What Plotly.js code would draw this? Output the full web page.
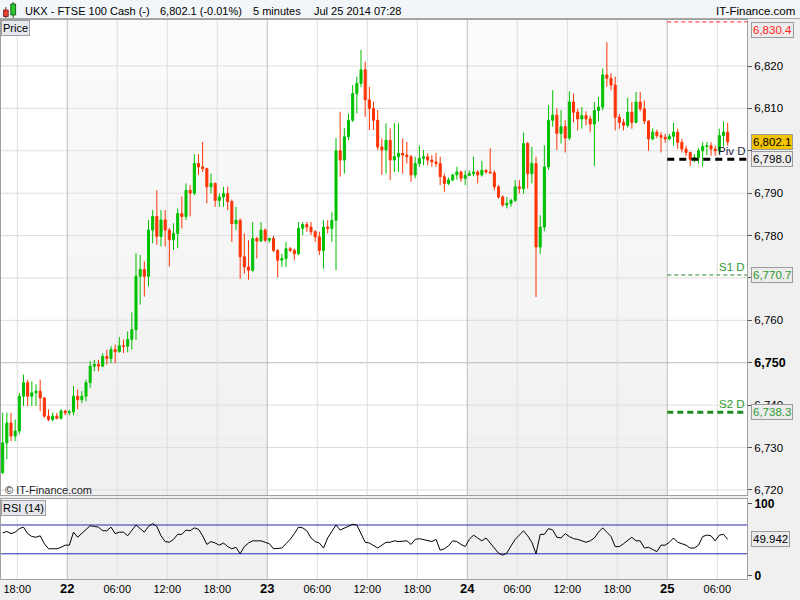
<!DOCTYPE html>
<html><head><meta charset="utf-8">
<script src="https://cdn.plot.ly/plotly-3.0.1.min.js"></script>
<style>html,body{margin:0;padding:0;background:#f0f0f0;}#chart{width:800px;height:600px;}</style>
</head><body><div id="chart"></div>
<script>
// ---- DATA (30-minute candles, first candle starts Jul 21 2014 16:00) ----
const candleStart = [2014, 6, 21, 16, 0];
const candleMinutes = 30;

const open = [
 6724.1,6731.1,6735.8,6732.7,6733.9,6742.1,6745.3,6742.1,6742.9,6743.3,6741.7,6737.4,6736.6,6737.4,6736.9,6738.6,
 6738.2,6738.4,6742.1,6741.3,6742.1,6745.3,6749.2,6749.6,6749.2,6751.5,6751.0,6753.1,6752.6,6754.0,6753.9,6755.5,
 6757.8,6770.4,6772.0,6770.4,6781.3,6784.5,6779.8,6783.7,6781.3,6779.0,6780.5,6785.2,6784.5,6790.7,6790.0,6797.0,
 6796.2,6795.8,6791.5,6792.3,6788.3,6789.1,6789.9,6788.0,6782.8,6783.6,6775.0,6772.6,6771.8,6779.3,6778.7,6781.3,
 6778.9,6779.3,6776.5,6774.2,6774.6,6776.9,6776.5,6775.7,6781.7,6782.6,6782.0,6780.9,6779.7,6776.5,6782.0,6781.7,
 6783.6,6800.0,6797.8,6803.3,6807.2,6813.5,6815.9,6819.1,6812.0,6810.0,6807.2,6800.9,6800.2,6802.5,6797.8,6798.6,
 6799.4,6799.0,6798.6,6794.3,6797.0,6798.2,6798.6,6797.8,6797.4,6797.0,6793.9,6792.3,6793.1,6794.3,6795.0,6793.5,
 6794.2,6794.6,6795.0,6794.3,6795.4,6795.0,6794.8,6791.5,6789.1,6787.2,6787.6,6788.3,6791.5,6791.1,6801.7,6794.6,
 6797.0,6777.3,6782.0,6796.2,6807.2,6808.4,6804.1,6805.7,6803.0,6811.5,6809.1,6807.5,6808.3,6807.5,6806.3,6809.5,
 6810.3,6817.9,6817.1,6815.5,6807.9,6806.7,6806.0,6809.1,6806.7,6811.5,6809.9,6807.0,6802.8,6804.4,6803.6,6803.2,
 6802.8,6803.4,6804.4,6802.0,6800.4,6799.6,6798.0,6798.4,6800.0,6801.0,6801.2,6800.4,6800.0,6803.6,6804.4
];
const high = [
 6738.2,6738.2,6738.2,6736.6,6742.9,6747.2,6746.0,6745.6,6744.9,6746.0,6741.9,6739.0,6738.2,6738.2,6739.1,6738.9,
 6738.9,6744.5,6743.7,6743.3,6746.0,6750.4,6750.7,6750.7,6752.2,6753.1,6753.9,6754.3,6756.1,6755.5,6757.4,6761.9,
 6775.8,6775.4,6773.9,6783.7,6786.0,6790.7,6786.0,6786.0,6781.8,6782.9,6786.4,6789.2,6792.3,6791.9,6799.2,6799.2,
 6802.1,6796.0,6794.6,6792.5,6789.9,6791.5,6791.5,6788.5,6786.8,6784.0,6780.5,6778.9,6783.2,6779.7,6783.2,6781.7,
 6779.5,6779.9,6776.8,6775.7,6778.5,6777.3,6776.9,6783.2,6783.2,6783.2,6783.2,6781.3,6780.9,6783.6,6783.6,6785.6,
 6803.0,6809.2,6805.3,6808.8,6815.5,6817.5,6823.8,6821.0,6815.1,6811.6,6809.6,6802.9,6806.5,6805.3,6806.5,6806.5,
 6802.9,6802.1,6799.0,6798.6,6801.3,6800.2,6799.4,6799.0,6799.5,6798.6,6794.6,6793.7,6794.6,6796.2,6795.3,6795.4,
 6795.4,6798.6,6795.4,6797.6,6795.6,6800.6,6795.4,6791.9,6789.5,6789.1,6788.7,6793.1,6793.1,6804.3,6802.1,6800.9,
 6798.6,6784.8,6801.3,6810.8,6814.3,6810.0,6809.6,6807.2,6814.0,6813.5,6809.9,6810.3,6809.3,6808.3,6811.5,6812.7,
 6819.4,6825.6,6818.3,6817.5,6808.7,6807.5,6812.5,6811.5,6813.9,6813.9,6811.9,6807.2,6805.3,6805.0,6804.4,6804.0,
 6804.0,6806.6,6805.2,6802.8,6801.2,6799.8,6799.2,6800.6,6802.0,6802.1,6802.0,6801.2,6805.2,6806.9,6806.6
];
const low = [
 6723.7,6727.2,6731.5,6731.5,6733.1,6739.8,6739.8,6739.8,6739.8,6738.6,6737.0,6736.2,6736.2,6736.6,6736.6,6737.6,
 6737.6,6737.6,6739.0,6740.5,6740.9,6744.1,6748.0,6748.0,6749.0,6749.6,6749.9,6749.9,6752.4,6752.3,6752.5,6753.1,
 6755.4,6763.7,6765.6,6768.0,6778.2,6777.8,6777.4,6777.4,6772.7,6776.6,6777.0,6781.7,6783.7,6784.5,6789.5,6794.3,
 6795.0,6787.6,6789.9,6786.8,6786.8,6786.8,6786.0,6778.5,6781.3,6769.8,6771.0,6769.6,6771.5,6774.6,6778.5,6778.5,
 6778.3,6776.1,6770.2,6772.6,6772.6,6776.1,6774.2,6775.4,6780.1,6780.9,6780.1,6778.5,6775.4,6772.2,6780.5,6778.5,
 6771.8,6793.9,6794.6,6802.5,6806.8,6808.8,6815.0,6808.0,6804.9,6804.9,6800.2,6794.3,6794.6,6793.1,6795.0,6795.0,
 6794.6,6797.0,6792.7,6793.5,6796.2,6796.6,6796.6,6796.2,6796.2,6791.9,6790.3,6791.9,6792.9,6793.2,6792.7,6791.9,
 6794.0,6794.0,6792.3,6793.9,6794.6,6794.6,6790.7,6788.7,6786.8,6786.4,6786.8,6787.9,6789.9,6789.9,6791.1,6792.3,
 6765.5,6775.7,6781.0,6795.5,6805.7,6800.2,6801.7,6799.6,6802.5,6806.7,6804.8,6805.2,6806.0,6804.4,6796.4,6806.9,
 6809.5,6815.1,6814.3,6804.8,6805.2,6804.8,6805.5,6805.2,6806.5,6809.3,6806.3,6800.0,6802.5,6803.0,6799.6,6801.9,
 6802.5,6801.2,6800.4,6799.6,6798.7,6796.4,6797.2,6797.0,6796.3,6799.0,6798.8,6798.8,6799.3,6801.0,6801.2
];
const close = [
 6731.1,6735.8,6732.7,6733.9,6742.1,6745.3,6742.1,6742.9,6743.3,6741.7,6737.4,6736.6,6737.4,6736.9,6738.6,6738.2,
 6738.4,6742.1,6741.3,6742.1,6745.3,6749.2,6749.6,6749.2,6751.5,6751.0,6753.1,6752.6,6754.0,6753.9,6755.5,6757.8,
 6770.4,6772.0,6770.4,6781.3,6784.5,6779.8,6783.7,6781.3,6779.0,6780.5,6785.2,6784.5,6790.7,6790.0,6797.0,6796.2,
 6795.8,6791.5,6792.3,6788.3,6789.1,6789.9,6788.0,6782.8,6783.6,6775.0,6772.6,6771.8,6779.3,6778.7,6781.3,6778.9,
 6779.3,6776.5,6774.2,6774.6,6776.9,6776.5,6775.7,6781.7,6782.6,6782.0,6780.9,6779.7,6776.5,6782.0,6781.7,6783.6,
 6800.0,6797.8,6803.3,6807.2,6813.5,6815.9,6819.1,6812.0,6810.0,6807.2,6800.9,6800.2,6802.5,6797.8,6798.6,6799.4,
 6799.0,6798.6,6794.3,6797.0,6798.2,6798.6,6797.8,6797.4,6797.0,6793.9,6792.3,6793.1,6794.3,6795.0,6793.5,6794.2,
 6794.6,6795.0,6794.3,6795.4,6795.0,6794.8,6791.5,6789.1,6787.2,6787.6,6788.3,6791.5,6791.1,6801.7,6794.6,6797.0,
 6777.3,6782.0,6796.2,6807.2,6808.4,6804.1,6805.7,6803.0,6811.5,6809.1,6807.5,6808.3,6807.5,6806.3,6809.5,6810.3,
 6817.9,6817.1,6815.5,6807.9,6806.7,6806.0,6809.1,6806.7,6811.5,6809.9,6807.0,6802.8,6804.4,6803.6,6803.2,6802.8,
 6803.4,6804.4,6802.0,6800.4,6799.6,6798.0,6798.4,6800.0,6801.0,6801.2,6800.4,6800.0,6803.6,6804.4,6802.1
];
const rsi = [
 59,61,58,60,65,67,58,54,53,55,44,37,37,37,39,42,
 42,60,53,58,64,69,68,67,62,62,67,58,60,60,55,63,
 70,65,60,68,72,68,55,47,46,50,57,57,63,62,66,64,
 55,43,47,45,42,45,40,37,39,30,40,45,48,48,48,46,
 44,37,38,38,44,50,58,67,66,62,52,47,45,38,52,62,
 70,63,66,69,71,70,58,46,45,42,38,42,46,46,48,47,
 47,48,43,50,51,50,49,47,50,35,37,41,48,47,43,40,
 50,56,52,48,52,45,38,31,28,31,41,50,56,62,55,46,
 30,57,57,65,63,53,52,58,54,51,50,48,46,48,52,60,
 66,60,54,40,40,44,48,53,48,48,38,39,36,33,42,42,
 46,52,46,44,42,38,38,42,54,56,55,48,56,57,49.942
];

const xTickTimes = ['2014-07-21 18:00','2014-07-22 00:00','2014-07-22 06:00','2014-07-22 12:00','2014-07-22 18:00',
 '2014-07-23 00:00','2014-07-23 06:00','2014-07-23 12:00','2014-07-23 18:00','2014-07-24 00:00','2014-07-24 06:00',
 '2014-07-24 12:00','2014-07-24 18:00','2014-07-25 00:00','2014-07-25 06:00'];
const xTickLabels = ['18:00','22','06:00','12:00','18:00','23','06:00','12:00','18:00','24','06:00','12:00','18:00','25','06:00'];
const dayLabels = ['22','23','24','25'];
const shadedDays = [['2014-07-22 00:00','2014-07-23 00:00'],['2014-07-24 00:00','2014-07-25 00:00']];
const priceTicks = [6720,6730,6740,6750,6760,6770,6780,6790,6800,6810,6820];
const hiddenPriceLabels = [6770,6800]; // covered by level boxes in the original
const rsiTicks = [0,100];
const rsiLevels = [70,30];
const levelHigh = 6830.4, levelPivot = 6798.0, levelS1 = 6770.7, levelS2 = 6738.3, lastPrice = 6802.1, lastRsi = 49.942;
const levelsStart = '2014-07-25 00:00';
const xRange = ['2014-07-21 16:03','2014-07-25 09:34'];

// ---- helpers ----
function pad(n){return (n<10?'0':'')+n;}
function fmt(ms){const d=new Date(ms);return d.getUTCFullYear()+'-'+pad(d.getUTCMonth()+1)+'-'+pad(d.getUTCDate())+' '+pad(d.getUTCHours())+':'+pad(d.getUTCMinutes());}
const t0 = Date.UTC.apply(null, candleStart);
const times = close.map((_, i) => fmt(t0 + (i*candleMinutes + candleMinutes/2)*60000));
const fmtPrice = v => v.toLocaleString('en-US',{minimumFractionDigits:0});
const fmtPrice1 = v => v.toLocaleString('en-US',{minimumFractionDigits:1,maximumFractionDigits:1});

const W=800,H=600,mL=1,mR=53,mT=20,mB=21;
const plotH=H-mT-mB, plotW=W-mL-mR;
const py = Y => (H-mB-Y)/plotH;
const px = X => (X-mL)/plotW;
const priceDom=[py(495),1], rsiDom=[0,py(499)];

const FONT='Liberation Sans, Arial, sans-serif';
const shapes=[];
// title bar
shapes.push({type:'rect',xref:'paper',yref:'paper',x0:px(0),x1:px(800),y0:py(19),y1:py(0),fillcolor:'#f3f6f9',line:{width:0},layer:'below'});
shapes.push({type:'line',xref:'paper',yref:'paper',x0:px(0),x1:px(800),y0:py(18.5),y1:py(18.5),line:{color:'#a8a8a8',width:1},layer:'below'});
// day shading (vertical gradient in price panel)
const bandCols=['#fbfbfb','#f9f9f9','#f8f8f8','#f6f6f6','#f5f5f5','#f3f3f3','#f2f2f2','#f0f0f0'];
shadedDays.forEach(([a,b])=>{
  const n=bandCols.length, h=(priceDom[1]-priceDom[0])/n;
  bandCols.forEach((c,k)=>{
    shapes.push({type:'rect',xref:'x',yref:'paper',x0:a,x1:b,y0:priceDom[1]-(k+1)*h,y1:priceDom[1]-k*h,fillcolor:c,line:{width:0},layer:'below'});
  });
  shapes.push({type:'rect',xref:'x',yref:'paper',x0:a,x1:b,y0:rsiDom[0],y1:rsiDom[1],fillcolor:'#f0f0f0',line:{width:0},layer:'below'});
});
// horizontal grid
priceTicks.forEach(v=>{
  const strong = v===6750;
  shapes.push({type:'line',xref:'paper',yref:'y',x0:0,x1:1,y0:v,y1:v,line:{color:strong?'#bcbcbc':'#dedede',width:1},layer:'below'});
});
// vertical grid
xTickTimes.forEach((t,i)=>{
  const day = dayLabels.indexOf(xTickLabels[i])>=0;
  const ln={color:day?'#bcbcbc':'#dedede',width:1};
  shapes.push({type:'line',xref:'x',yref:'paper',x0:t,x1:t,y0:priceDom[0],y1:priceDom[1],line:ln,layer:'below'});
  shapes.push({type:'line',xref:'x',yref:'paper',x0:t,x1:t,y0:rsiDom[0],y1:rsiDom[1],line:ln,layer:'below'});
});
// RSI levels
rsiLevels.forEach(v=>shapes.push({type:'line',xref:'paper',yref:'y2',x0:0,x1:1,y0:v,y1:v,line:{color:'#2a2ab4',width:1},layer:'below'}));
// pivot levels
const lvl=(y,color,width,dash)=>shapes.push({type:'line',xref:'x',yref:'y',x0:levelsStart,x1:xRange[1],y0:y,y1:y,line:{color,width,dash},layer:'above'});
lvl(levelHigh,'#ff2020',1,'4px,3px');
lvl(levelPivot,'#000000',3,'7px,5px');
lvl(levelS1,'#2e8b2e',1,'4px,3px');
lvl(levelS2,'#1f8a1f',3,'6px,4px');
// small logo candles in title bar
shapes.push({type:'line',xref:'paper',yref:'paper',x0:px(5.8),x1:px(5.8),y0:py(18),y1:py(7),line:{color:'#803030',width:1}});
shapes.push({type:'rect',xref:'paper',yref:'paper',x0:px(3.5),x1:px(8.2),y0:py(16.5),y1:py(10),fillcolor:'#e84030',line:{color:'#803030',width:1}});
shapes.push({type:'line',xref:'paper',yref:'paper',x0:px(13.2),x1:px(13.2),y0:py(18),y1:py(2),line:{color:'#206020',width:1}});
shapes.push({type:'rect',xref:'paper',yref:'paper',x0:px(10.8),x1:px(15.6),y0:py(15),y1:py(4),fillcolor:'#28c828',line:{color:'#206020',width:1}});

const ann=[];
const txt=(x,y,text,opt={})=>ann.push(Object.assign({xref:'paper',yref:'paper',x,y,text,showarrow:false,xanchor:'left',yanchor:'middle',font:{family:FONT,size:11,color:'#000'}},opt));
txt(px(23),py(10.5),'UKX - FTSE 100 Cash (-)');
txt(px(158),py(10.5),'6,802.1 (-0.01%)');
txt(px(251),py(10.5),'5 minutes');
txt(px(312),py(10.5),'Jul 25 2014 07:28');
txt(px(797),py(10.5),'IT-Finance.com',{xanchor:'right',font:{family:FONT,size:11.5,color:'#000'}});
txt(0,1,'Price',{yanchor:'top',bgcolor:'#e6e9ee',bordercolor:'#a0a0a0',borderwidth:1,borderpad:1});
txt(px(3),py(490),'© IT-Finance.com',{font:{family:FONT,size:11,color:'#222'}});
txt(0,rsiDom[1],'RSI (14)',{yanchor:'top',yshift:-1,bgcolor:'#e6e9ee',bordercolor:'#a0a0a0',borderwidth:1,borderpad:1});
// right side level boxes
const box=(yref,y,text,color,bg,yanchor)=>ann.push({xref:'paper',yref,x:1,y,xshift:4,xanchor:'left',yanchor:yanchor||'middle',text,showarrow:false,
  font:{family:FONT,size:11.5,color},bgcolor:bg,bordercolor:'#9c9c9c',borderwidth:1,borderpad:1});
box('y',levelHigh,fmtPrice1(levelHigh),'#ff2020','#ececec','top');
box('y',lastPrice,fmtPrice1(lastPrice),'#000','#f4c400');
box('y',levelPivot,fmtPrice1(levelPivot),'#000','#ececec');
box('y',levelS1,fmtPrice1(levelS1),'#2e9a2e','#ececec');
box('y',levelS2,fmtPrice1(levelS2),'#2e9a2e','#ececec');
box('y2',lastRsi,lastRsi.toFixed(3),'#000','#ececec');
const tag=(y,text,color)=>ann.push({xref:'paper',yref:'y',x:1,y,xanchor:'right',yanchor:'bottom',text,showarrow:false,font:{family:FONT,size:11.5,color}});
tag(levelPivot,'Piv D','#1c1c3a');
tag(levelS1,'S1 D','#2e9a2e');
tag(levelS2,'S2 D','#2e9a2e');

const traces=[
 {type:'candlestick',x:times,open,high,low,close,xaxis:'x',yaxis:'y',whiskerwidth:0,hoverinfo:'skip',
  increasing:{line:{color:'#00c000',width:1},fillcolor:'#00c000'},
  decreasing:{line:{color:'#ff3300',width:1},fillcolor:'#ff3300'}},
 {type:'scatter',mode:'lines',x:times,y:rsi,xaxis:'x2',yaxis:'y2',line:{color:'#000',width:1},hoverinfo:'skip'}
];

const xTickText = xTickLabels.map(l=>dayLabels.indexOf(l)>=0?'<span style="font-size:13px"><b>'+l+'</b></span>':l);
const priceTickText = priceTicks.map(v=>hiddenPriceLabels.indexOf(v)>=0?'':(v===6750?'<span style="font-size:12.5px"><b>'+fmtPrice(v)+'</b></span>':fmtPrice(v)));

const layout={
 width:W,height:H,margin:{l:mL,r:mR,t:mT,b:mB},paper_bgcolor:'#f0f0f0',plot_bgcolor:'#ffffff',
 font:{family:FONT,size:11,color:'#000'},showlegend:false,
 xaxis:{domain:[0,1],anchor:'y',type:'date',range:xRange,showgrid:false,showticklabels:false,ticks:'',
   showline:true,mirror:true,linecolor:'#a0a0a0',linewidth:1,rangeslider:{visible:false},fixedrange:true},
 xaxis2:{domain:[0,1],anchor:'y2',type:'date',range:xRange,showgrid:false,tickmode:'array',tickvals:xTickTimes,ticktext:xTickText,
   ticks:'',tickfont:{family:FONT,size:11,color:'#000'},showline:true,mirror:true,linecolor:'#a0a0a0',linewidth:1,rangeslider:{visible:false},fixedrange:true},
 yaxis:{domain:priceDom,anchor:'x',side:'right',range:[6718.8,6830.85],tickmode:'array',tickvals:priceTicks,ticktext:priceTickText,
   ticks:'outside',ticklen:4,tickcolor:'#555',showgrid:false,zeroline:false,showline:true,mirror:true,linecolor:'#a0a0a0',
   tickfont:{family:FONT,size:11.5,color:'#000'},fixedrange:true},
 yaxis2:{domain:rsiDom,anchor:'x2',side:'right',range:[-5,106.1],tickmode:'array',tickvals:rsiTicks,ticktext:rsiTicks.map(v=>'<b>'+v+'</b>'),
   ticks:'outside',ticklen:4,tickcolor:'#555',showgrid:false,zeroline:false,showline:true,mirror:true,linecolor:'#a0a0a0',
   tickfont:{family:FONT,size:12,color:'#000'},fixedrange:true},
 shapes,annotations:ann
};
Plotly.newPlot('chart',traces,layout,{staticPlot:true,displayModeBar:false});
</script></body></html>
